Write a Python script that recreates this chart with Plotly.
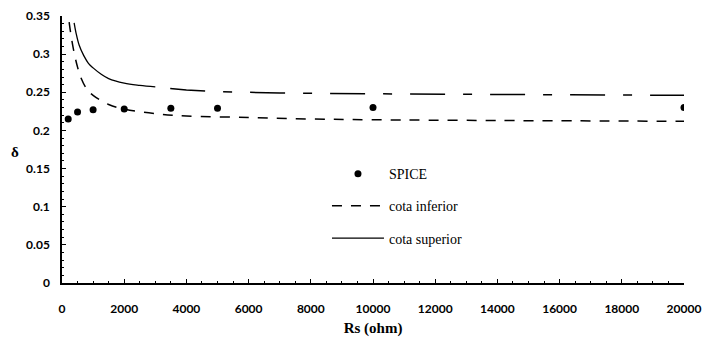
import plotly.graph_objects as go

# SPICE simulation points
spice_rs = [200, 500, 1000, 2000, 3500, 5000, 10000, 20000]
spice_delta = [0.215, 0.224, 0.227, 0.228, 0.229, 0.229, 0.230, 0.230]

# lower bound (cota inferior)
inf_rs = [230, 300, 400, 500, 600, 800, 1000, 1500, 2000, 3000, 4000, 6000, 8000, 10000, 14000, 20000]
inf_delta = [0.342, 0.322, 0.300, 0.283, 0.270, 0.254, 0.246, 0.234, 0.228, 0.222, 0.219, 0.217, 0.215, 0.214, 0.213, 0.212]

# upper bound (cota superior)
sup_rs = [390, 450, 550, 700, 850, 1000, 1250, 1500, 2000, 2500, 3000, 4000, 5000, 7000, 10000, 14000, 20000]
sup_delta = [0.341, 0.328, 0.312, 0.298, 0.288, 0.282, 0.274, 0.268, 0.262, 0.259, 0.257, 0.253, 0.251, 0.249, 0.248, 0.247, 0.246]

x_ticks = [0, 2000, 4000, 6000, 8000, 10000, 12000, 14000, 16000, 18000, 20000]
x_tick_text = ["0", "2000", "4000", "6000", "8000", "10000", "12000", "14000", "16000", "18000", "20000"]
y_ticks = [0, 0.05, 0.1, 0.15, 0.2, 0.25, 0.3, 0.35]
y_tick_text = ["0", "0.05", "0.1", "0.15", "0.2", "0.25", "0.3", "0.35"]

split = 3000
sup_a_x = [x for x in sup_rs if x <= split]
sup_a_y = [y for x, y in zip(sup_rs, sup_delta) if x <= split]
sup_b_x = [x for x in sup_rs if x >= split]
sup_b_y = [y for x, y in zip(sup_rs, sup_delta) if x >= split]

fig = go.Figure()
fig.add_trace(go.Scatter(x=spice_rs, y=spice_delta, mode="markers", name="SPICE",
                         marker=dict(color="black", size=7, symbol="circle"),
                         legendgroup="a"))
fig.add_trace(go.Scatter(x=inf_rs, y=inf_delta, mode="lines", name="cota inferior",
                         line=dict(color="black", width=1.5, dash="10px,9px", shape="spline"),
                         legendgroup="b"))
fig.add_trace(go.Scatter(x=sup_a_x, y=sup_a_y, mode="lines", name="cota superior",
                         line=dict(color="black", width=1.3, shape="spline"),
                         legendgroup="c"))
fig.add_trace(go.Scatter(x=sup_b_x, y=sup_b_y, mode="lines", name="cota superior",
                         line=dict(color="black", width=1.5, dash="0px,15px,35px,18px,9px,3px"),
                         legendgroup="c", showlegend=False))

tickfont = dict(family="Lato", size=12, color="black", weight="bold")

fig.update_layout(
    width=704, height=342,
    margin=dict(l=62, r=20, t=16, b=59),
    paper_bgcolor="white", plot_bgcolor="white",
    showlegend=True,
    legend=dict(x=0.426, y=0.468, xanchor="left", yanchor="top",
                font=dict(family="Liberation Serif", size=14, color="black"),
                bgcolor="rgba(0,0,0,0)", tracegroupgap=11, traceorder="grouped",
                itemwidth=52),
    xaxis=dict(range=[0, 20000], tickvals=x_ticks, ticktext=x_tick_text, showgrid=False, zeroline=False,
               showline=True, linecolor="black", linewidth=1.5, automargin=False,
               ticks="inside", ticklen=4, tickcolor="black",
               minor=dict(dtick=500, ticks="inside", ticklen=2, tickcolor="black"),
               tickfont=tickfont, ticklabelstandoff=14,
               title=dict(text="<b>Rs (ohm)</b>", font=dict(family="Liberation Serif", size=15, color="black"),
                          standoff=7)),
    yaxis=dict(range=[0, 0.35], tickvals=y_ticks, ticktext=y_tick_text, showgrid=False, zeroline=False,
               showline=True, linecolor="black", linewidth=1.5, automargin=False,
               ticks="inside", ticklen=4, tickcolor="black",
               minor=dict(dtick=0.01, ticks="inside", ticklen=2, tickcolor="black"),
               tickfont=tickfont, ticklabelstandoff=8),
    annotations=[dict(text="<b>δ</b>", xref="paper", yref="paper", x=-0.085, y=0.49,
                      showarrow=False, font=dict(family="Liberation Serif", size=15, color="black"))],
)

fig.write_html("out.html")
